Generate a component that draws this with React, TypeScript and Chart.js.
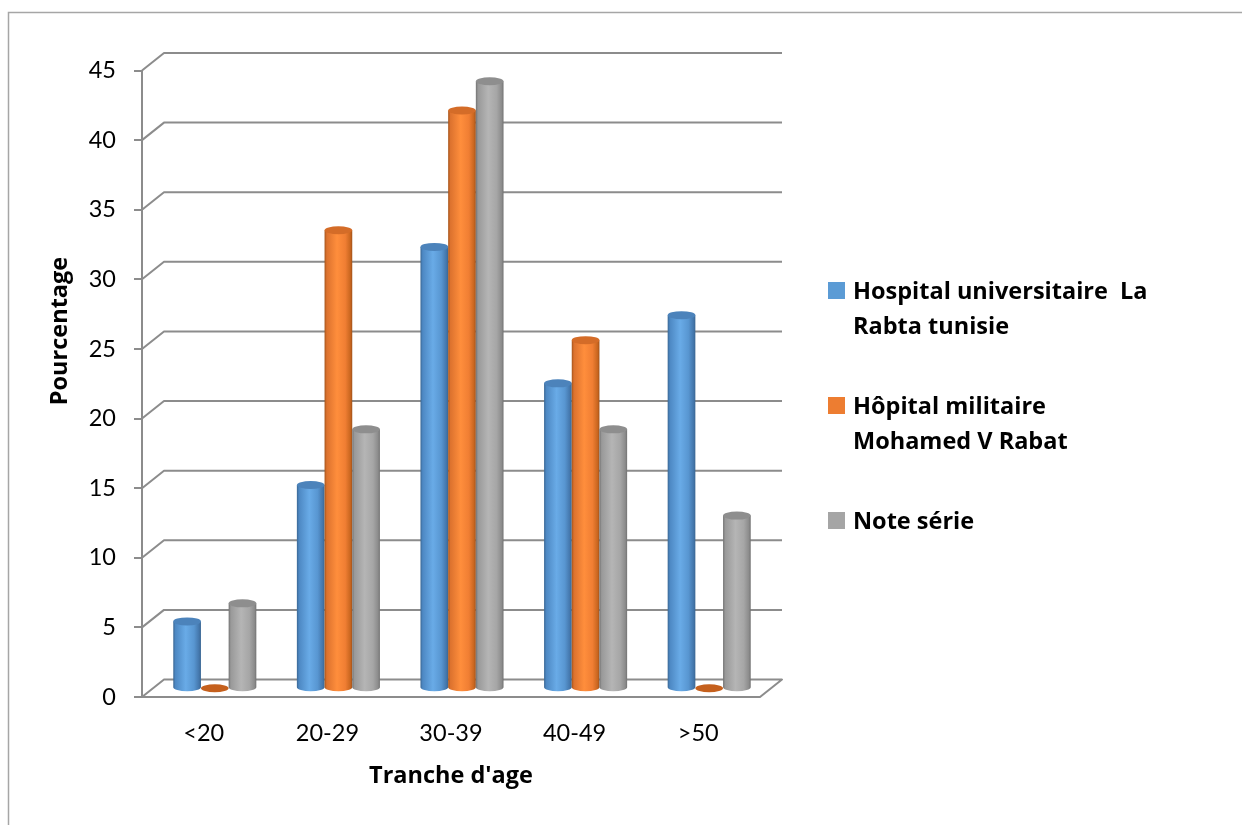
import { useEffect, useRef } from "react";
import { Chart, registerables } from "chart.js";

Chart.register(...registerables);

// Age brackets and percentages per series
const categories = ["<20", "20-29", "30-39", "40-49", ">50"];
const hospitalLaRabta = [4.8, 14.6, 31.7, 21.9, 26.8];
const hopitalMilitaire = [0, 32.9, 41.5, 25.0, 0];
const noteSerie = [6.1, 18.6, 43.6, 18.6, 12.4];

const seriesLabels = [
  "Hospital universitaire  La Rabta tunisie",
  "Hôpital militaire Mohamed V Rabat",
  "Note série",
];
// Legend lines as they wrap beside the chart
const legendLines = [
  ["Hospital universitaire  La", "Rabta tunisie"],
  ["Hôpital militaire", "Mohamed V Rabat"],
  ["Note série"],
];

const yMin = 0;
const yMax = 45;
const yStep = 5;

const xTitle = "Tranche d'age";
const yTitle = "Pourcentage";

const TICK_FONT = "Lato, 'Open Sans', sans-serif";
const BOLD_FONT = "'Open Sans', Lato, sans-serif";
const TICK_SIZE = 23.5;
const BOLD_SIZE = 23.5;

// Depth of the 3-D box (offset of the back wall from the front plane)
const DX = 22;
const DY = -17.5;

type Palette = { stops: [number, string][]; top: string; flat: string; swatch: string };

const palettes: Palette[] = [
  {
    stops: [
      [0, "#3a6794"],
      [0.08, "#4d88c3"],
      [0.45, "#69abe7"],
      [0.75, "#5896d1"],
      [0.93, "#4477ac"],
      [1, "#3a6692"],
    ],
    top: "#4c83bb",
    flat: "#4a7fb5",
    swatch: "#5b9bd5",
  },
  {
    stops: [
      [0, "#a5541b"],
      [0.08, "#dc722e"],
      [0.45, "#ff8e3c"],
      [0.75, "#f07e33"],
      [0.93, "#c9661f"],
      [1, "#a1521a"],
    ],
    top: "#d46c28",
    flat: "#c5601d",
    swatch: "#ed7d31",
  },
  {
    stops: [
      [0, "#737373"],
      [0.08, "#999999"],
      [0.45, "#b5b5b5"],
      [0.75, "#a6a6a6"],
      [0.93, "#8c8c8c"],
      [1, "#727272"],
    ],
    top: "#8e8e8e",
    flat: "#8a8a8a",
    swatch: "#a5a5a5",
  },
];

const GRID = "#8c8c8c";

const boxPlugin = {
  id: "box3d",
  beforeDraw(chart: any) {
    const ctx = chart.ctx;
    ctx.save();
    ctx.fillStyle = "#ffffff";
    ctx.fillRect(0, 0, chart.width, chart.height);
    // outer frame
    ctx.strokeStyle = "#a6a6a6";
    ctx.lineWidth = 1.5;
    ctx.strokeRect(8.5, 12.5, chart.width + 20, chart.height + 20);
    ctx.restore();
  },
  beforeDatasetsDraw(chart: any) {
    const ctx = chart.ctx;
    const ys = chart.scales.y;
    const { left, right, bottom } = chart.chartArea;
    ctx.save();
    ctx.lineWidth = 2;
    ctx.strokeStyle = GRID;
    ctx.lineJoin = "round";
    // floor
    ctx.beginPath();
    ctx.moveTo(left, bottom);
    ctx.lineTo(right, bottom);
    ctx.lineTo(right + DX, bottom + DY);
    ctx.lineTo(left + DX, bottom + DY);
    ctx.closePath();
    ctx.fillStyle = "#ffffff";
    ctx.fill();
    ctx.stroke();
    // back wall gridlines with their side-wall diagonals
    for (let v = yMin + yStep; v <= yMax; v += yStep) {
      const yf = ys.getPixelForValue(v);
      ctx.beginPath();
      ctx.moveTo(left, yf);
      ctx.lineTo(left + DX, yf + DY);
      ctx.lineTo(right + DX, yf + DY);
      ctx.stroke();
    }
    ctx.restore();
  },
  afterDatasetsDraw(chart: any) {
    const ctx = chart.ctx;
    const metas = chart.data.datasets.map((_: any, i: number) => chart.getDatasetMeta(i));
    const n = chart.data.labels.length;
    ctx.save();
    for (let c = 0; c < n; c++) {
      metas.forEach((meta: any, s: number) => {
        const el = meta.data[c];
        if (!el) return;
        const { x, y, base, width } = el.getProps(["x", "y", "base", "width"], true);
        const pal = palettes[s];
        const cx = x + DX / 2;
        const rx = width / 2;
        const ry = 4;
        const top = y + DY / 2;
        const bot = base + DY / 2;
        const value = chart.data.datasets[s].data[c];
        if (!value) {
          ctx.beginPath();
          ctx.ellipse(cx, bot, rx, ry, 0, 0, Math.PI * 2);
          ctx.fillStyle = pal.flat;
          ctx.fill();
          return;
        }
        const g = ctx.createLinearGradient(cx - rx, 0, cx + rx, 0);
        pal.stops.forEach(([o, col]) => g.addColorStop(o, col));
        ctx.beginPath();
        ctx.moveTo(cx - rx, top);
        ctx.lineTo(cx - rx, bot);
        ctx.ellipse(cx, bot, rx, ry, 0, Math.PI, 0, true);
        ctx.lineTo(cx + rx, top);
        ctx.closePath();
        ctx.fillStyle = g;
        ctx.fill();
        ctx.beginPath();
        ctx.ellipse(cx, top, rx, ry, 0, 0, Math.PI * 2);
        ctx.fillStyle = pal.top;
        ctx.fill();
      });
    }
    ctx.restore();
  },
  afterDraw(chart: any) {
    const ctx = chart.ctx;
    ctx.save();
    ctx.fillStyle = "#000000";
    // y-axis title
    ctx.font = `bold ${BOLD_SIZE}px ${BOLD_FONT}`;
    ctx.textAlign = "center";
    ctx.textBaseline = "middle";
    ctx.translate(60, 331);
    ctx.rotate(-Math.PI / 2);
    ctx.fillText(yTitle, 0, 0);
    ctx.restore();

    // legend
    ctx.save();
    ctx.font = `bold ${BOLD_SIZE}px ${BOLD_FONT}`;
    ctx.textAlign = "left";
    ctx.textBaseline = "alphabetic";
    const legX = 828;
    const firstTop = 282;
    const entryGap = 115;
    const lineGap = 35;
    const sq = 17;
    legendLines.forEach((lines, i) => {
      const t = firstTop + i * entryGap;
      ctx.fillStyle = palettes[i].swatch;
      ctx.fillRect(legX, t, sq, sq);
      ctx.fillStyle = "#000000";
      lines.forEach((ln, j) => ctx.fillText(ln, legX + 25, t + sq + j * lineGap));
    });
    ctx.restore();
  },
};

export default function App() {
  const ref = useRef<HTMLCanvasElement | null>(null);

  useEffect(() => {
    if (!ref.current) return;
    const series = [hospitalLaRabta, hopitalMilitaire, noteSerie];
    const chart = new Chart(ref.current, {
      type: "bar",
      data: {
        labels: categories,
        datasets: series.map((d, i) => ({
          label: seriesLabels[i],
          data: d,
          backgroundColor: "rgba(0,0,0,0)",
          borderWidth: 0,
          categoryPercentage: 0.672,
          barPercentage: 1,
        })),
      },
      options: {
        responsive: false,
        animation: false,
        events: [],
        layout: { padding: { left: 0, top: 70.5, right: 482, bottom: 0 } },
        plugins: {
          legend: { display: false },
          tooltip: { enabled: false },
          title: { display: false },
        },
        scales: {
          x: {
            type: "category",
            grid: { display: false },
            border: { display: false },
            ticks: {
              color: "#000000",
              padding: 14,
              font: { family: TICK_FONT, size: TICK_SIZE },
            },
            title: {
              display: true,
              text: xTitle,
              color: "#000000",
              font: { family: BOLD_FONT, size: BOLD_SIZE, weight: "bold" },
              padding: { top: 0, bottom: 35 },
            },
            afterFit(scale: any) {
              scale.height = 128;
            },
          },
          y: {
            type: "linear",
            min: yMin,
            max: yMax,
            ticks: {
              stepSize: yStep,
              color: "#000000",
              padding: 18,
              font: { family: TICK_FONT, size: TICK_SIZE },
            },
            grid: {
              drawOnChartArea: false,
              drawTicks: true,
              tickLength: 8,
              color: GRID,
              lineWidth: 2,
            },
            border: { display: true, color: GRID, width: 2 },
            afterFit(scale: any) {
              scale.width = 142;
            },
          },
        },
      },
      plugins: [boxPlugin],
    });
    return () => chart.destroy();
  }, []);

  return (
    <div style={{ position: "absolute", left: 0, top: 0, width: 1242, height: 825, background: "#fff" }}>
      <canvas ref={ref} width={1242} height={825} />
    </div>
  );
}
